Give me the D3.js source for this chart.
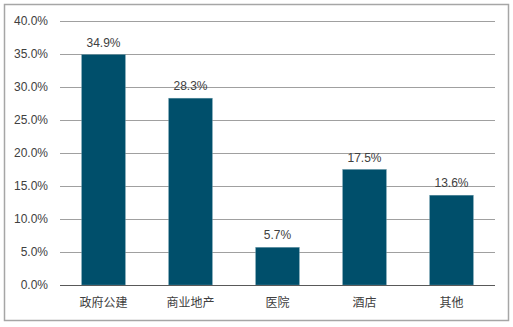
<!DOCTYPE html>
<html><head><meta charset="utf-8">
<script src="https://cdn.jsdelivr.net/npm/d3@7"></script>
<style>body{margin:0;background:#fff}svg{display:block}</style>
</head><body>
<script>
const categories = ["政府公建","商业地产","医院","酒店","其他"];
const values = [34.9, 28.3, 5.7, 17.5, 13.6];
const yTicks = [0,5,10,15,20,25,30,35,40];

const W=513,H=327;
const svg=d3.select("body").append("svg").attr("width",W).attr("height",H);
svg.append("rect").attr("x",4.5).attr("y",4.5).attr("width",504).attr("height",316)
  .attr("fill","#fff").attr("stroke","#a6a6a6").attr("stroke-width",1.5);

const x=d3.scaleBand().domain(categories).range([60,495]).paddingInner(0.5).paddingOuter(0.25);
const y=d3.scaleLinear().domain([0,40]).range([285,21]);
const font="'Liberation Sans', Arial, 'Noto Sans CJK SC', sans-serif";

const g=svg.append("g");
g.selectAll("line.grid").data(yTicks.filter(d=>d>0)).join("line")
  .attr("x1",60).attr("x2",495).attr("y1",d=>Math.round(y(d))+0.5).attr("y2",d=>Math.round(y(d))+0.5)
  .attr("stroke","#a0a0a0").attr("stroke-width",1);

const yAxis=d3.axisLeft(y).tickValues(yTicks).tickFormat(d=>d.toFixed(1)+"%").tickSize(0).tickPadding(12);
const ya=svg.append("g").attr("transform","translate(60,0)").call(yAxis);
ya.select(".domain").remove();
ya.selectAll("text").attr("font-family",font).attr("font-size",12).attr("fill","#404040");

g.selectAll("rect.bar").data(values).join("rect")
  .attr("x",(d,i)=>x(categories[i])).attr("width",x.bandwidth())
  .attr("y",d=>y(d)).attr("height",d=>y(0)-y(d))
  .attr("fill","#004f6b").attr("stroke","#5a8ea0").attr("stroke-width",0.5);

g.selectAll("text.val").data(values).join("text")
  .attr("x",(d,i)=>x(categories[i])+x.bandwidth()/2).attr("y",d=>y(d)-8)
  .attr("text-anchor","middle").attr("font-family",font).attr("font-size",12).attr("fill","#404040")
  .text(d=>d.toFixed(1)+"%");

const xAxis=d3.axisBottom(x).tickSize(0).tickPadding(13);
const xa=svg.append("g").attr("transform","translate(0,285)").call(xAxis);
xa.select(".domain").attr("stroke","#595959").attr("d","M60,0.5H495");
xa.selectAll("text").attr("font-family","'Noto Sans CJK SC', sans-serif").attr("font-size",12).attr("fill","#404040");
</script>
</body></html>
